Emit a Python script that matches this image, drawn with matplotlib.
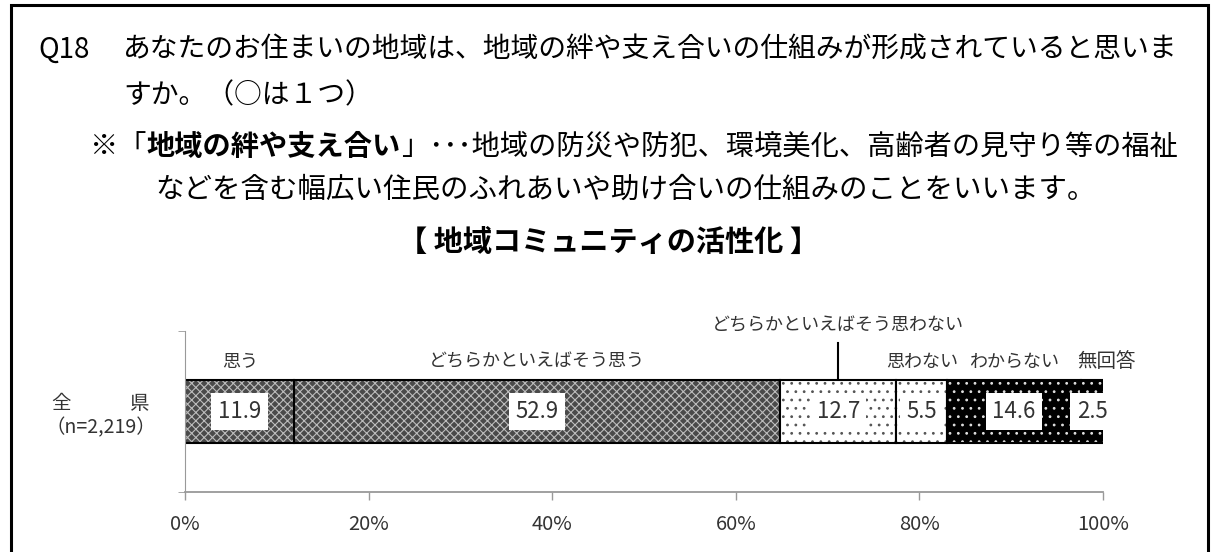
import matplotlib.pyplot as plt
from matplotlib.patches import Rectangle

plt.rcParams['font.family'] = ['Noto Sans CJK JP', 'DejaVu Sans']
plt.rcParams['hatch.linewidth'] = 0.8

# data
categories = ['思う', 'どちらかといえばそう思う', 'どちらかといえばそう思わない',
              '思わない', 'わからない', '無回答']
values = [11.9, 52.9, 12.7, 5.5, 14.6, 2.5]
row_label = '全　　　県\n（n=2,219）'
xticks = [0, 20, 40, 60, 80, 100]
xtick_labels = ['0%', '20%', '40%', '60%', '80%', '100%']

question = 'あなたのお住まいの地域は、地域の絆や支え合いの仕組みが形成されていると思いま'
question2 = 'すか。（○は１つ）'
note_bold = '地域の絆や支え合い'
note_rest = '」･･･地域の防災や防犯、環境美化、高齢者の見守り等の福祉'
note2 = 'などを含む幅広い住民のふれあいや助け合いの仕組みのことをいいます。'
heading = '【 地域コミュニティの活性化 】'

# fill styles per segment
faces = ['#4a4a4a', '#4a4a4a', 'white', 'white', 'black', 'black']
hatch_cols = ['#bdbdbd', '#bdbdbd', '#555555', '#555555', '#e0e0e0', '#e0e0e0']
hatches = ['xxxx', 'xxxx', '..', '..', '..', '..']

W, H = 1215, 552
fig = plt.figure(figsize=(W / 100, H / 100), dpi=100)

def fx(px):
    return px / W

def fy(py):
    return 1 - py / H

# outer frame (open at the bottom)
fig.add_artist(Rectangle((fx(11), -0.05), fx(1208) - fx(11), fy(5) + 0.05,
                         transform=fig.transFigure, fill=False, lw=2.2,
                         ec='black', clip_on=False))

# question text
fig.text(fx(38), fy(50), 'Q18', fontsize=20, va='center')
fig.text(fx(123), fy(50), question, fontsize=20, va='center')
fig.text(fx(123), fy(95), question2, fontsize=20, va='center')

ax = fig.add_axes([fx(185), fy(492), fx(1103) - fx(185), fy(331) - fy(492)])

t1 = fig.text(fx(90), fy(147), '※「', fontsize=20.3, va='center', style='italic')
t2 = ax.annotate(note_bold, xy=(1, 0.5), xycoords=t1, va='center', ha='left',
                 fontsize=20.3, fontweight='bold', style='italic',
                 annotation_clip=False)
ax.annotate(note_rest, xy=(1, 0.5), xycoords=t2, va='center', ha='left',
            fontsize=20.3, style='italic', annotation_clip=False)
fig.text(fx(155), fy(190), note2, fontsize=20.5, va='center', style='italic')

fig.text(fx(608), fy(242), heading, fontsize=21, fontweight='bold',
         ha='center', va='center')

# stacked bar
left = 0
centers = []
for v, fc, hc, h in zip(values, faces, hatch_cols, hatches):
    ax.barh(0, v, left=left, height=1, color=fc, edgecolor=hc, hatch=h, lw=0)
    ax.barh(0, v, left=left, height=1, fill=False, edgecolor='black', lw=1.5)
    centers.append(left + v / 2)
    left += v

for c, v in zip(centers, values):
    ax.text(c, 0, f'{v:.1f}', ha='center', va='center', fontsize=16,
            color='#333333',
            bbox=dict(boxstyle='square,pad=0.3', fc='white', ec='none'))

# category names above the bar (the last one sits a little to the right)
nudge = {5: 1.5}
for i, (c, name) in enumerate(zip(centers, categories)):
    x = c + nudge.get(i, 0)
    if i == 2:
        ax.text(x, 1.37, name, ha='center', va='center', fontsize=13,
                color='#333333', clip_on=False)
        ax.plot([x, x], [0.53, 1.09], color='black', lw=1.5, clip_on=False)
    else:
        ax.text(x, 0.79, name, ha='center', va='center',
                fontsize=14 if i == 5 else 13, color='#333333', clip_on=False)

ax.set_xlim(0, 100)
ax.set_ylim(-1.278, 1.278)
ax.set_xticks(xticks, xtick_labels)
ax.set_yticks([0], [row_label])
ax.set_yticks([-1.278, 1.278], minor=True)

for s in ['top', 'right']:
    ax.spines[s].set_visible(False)
for s in ['left', 'bottom']:
    ax.spines[s].set_color('#999999')
ax.spines['bottom'].set_linewidth(1.3)

ax.tick_params(axis='x', colors='#999999', length=6, width=1, pad=10,
               labelsize=14.5, labelcolor='#333333')
ax.tick_params(axis='y', which='major', length=0, pad=21, labelsize=14,
               labelcolor='#333333')
ax.tick_params(axis='y', which='minor', length=5, color='#999999')
for lab in ax.get_yticklabels():
    lab.set_multialignment('center')

fig.savefig('out.png', dpi=100)
